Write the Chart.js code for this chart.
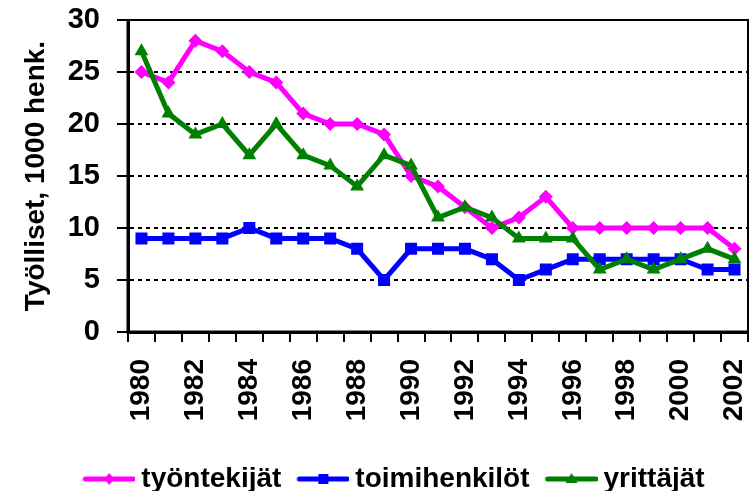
<!DOCTYPE html>
<html>
<head>
<meta charset="utf-8">
<script src="https://cdn.jsdelivr.net/npm/chart.js@4/dist/chart.umd.min.js"></script>
<style>
  html, body { margin: 0; padding: 0; background: #fff; }
  #wrap { width: 752px; height: 491px; }
</style>
</head>
<body>
<div id="wrap"><canvas id="chart" width="752" height="491"></canvas></div>
<script>
const years = ['1980','1981','1982','1983','1984','1985','1986','1987','1988','1989','1990','1991',
               '1992','1993','1994','1995','1996','1997','1998','1999','2000','2001','2002'];
const tyontekijat = [25, 24, 28, 27, 25, 24, 21, 20, 20, 19, 15, 14, 12, 10, 11, 13, 10, 10, 10, 10, 10, 10, 8];
const toimihenkilot = [9, 9, 9, 9, 10, 9, 9, 9, 8, 5, 8, 8, 8, 7, 5, 6, 7, 7, 7, 7, 7, 6, 6];
const yrittajat = [27, 21, 19, 20, 17, 20, 17, 16, 14, 17, 16, 11, 12, 11, 9, 9, 9, 6, 7, 6, 7, 8, 7];
const yTicks = [0, 5, 10, 15, 20, 25, 30];

const FONT = "'Liberation Sans', Arial, sans-serif";

// legend icon: thick line with the marker in the middle, transparent margin on the left
function legendIcon(color, shape) {
  const c = document.createElement('canvas');
  c.width = 72; c.height = 16;
  const g = c.getContext('2d');
  g.strokeStyle = color; g.fillStyle = color;
  g.lineWidth = 5; g.lineCap = 'round';
  g.beginPath(); g.moveTo(22, 8); g.lineTo(70, 8); g.stroke();
  const cx = 46;
  g.beginPath();
  if (shape === 'diamond') {
    g.moveTo(cx, 2); g.lineTo(cx + 5, 8); g.lineTo(cx, 14); g.lineTo(cx - 5, 8);
  } else if (shape === 'square') {
    g.rect(cx - 5, 3, 10, 10);
  } else {
    g.moveTo(cx, 2); g.lineTo(cx + 6, 12); g.lineTo(cx - 6, 12);
  }
  g.closePath(); g.fill();
  return c;
}
const icons = [legendIcon('#FF00FF', 'diamond'), legendIcon('#0000FF', 'square'), legendIcon('#008000', 'triangle')];

const frame = {
  id: 'frame',
  afterLayout(chart) {
    // legend in the original sits a bit right of centre
    chart.legend.left += 14;
    chart.legend.right += 14;
  },
  afterDatasetsDraw(chart) {
    const a = chart.chartArea, ctx = chart.ctx;
    ctx.save();
    ctx.strokeStyle = '#000';
    ctx.lineWidth = 2;
    ctx.beginPath();
    ctx.moveTo(a.left, a.top); ctx.lineTo(a.right, a.top); ctx.lineTo(a.right, a.bottom);
    ctx.stroke();
    ctx.lineWidth = 3;
    ctx.beginPath();
    ctx.moveTo(a.left, a.top); ctx.lineTo(a.left, a.bottom); ctx.lineTo(a.right, a.bottom);
    ctx.stroke();
    ctx.restore();
  }
};

new Chart(document.getElementById('chart'), {
  type: 'line',
  data: {
    labels: years,
    datasets: [
      {
        label: 'työntekijät', data: tyontekijat, order: 2,
        borderColor: '#FF00FF', backgroundColor: '#FF00FF', borderWidth: 5,
        pointStyle: 'rectRot', pointRadius: 7, pointBorderWidth: 0
      },
      {
        label: 'toimihenkilöt', data: toimihenkilot, order: 1,
        borderColor: '#0000FF', backgroundColor: '#0000FF', borderWidth: 5,
        pointStyle: 'rect', pointRadius: 8.5, pointBorderWidth: 0
      },
      {
        label: 'yrittäjät', data: yrittajat, order: 0,
        borderColor: '#008000', backgroundColor: '#008000', borderWidth: 5,
        pointStyle: 'triangle', pointRadius: 8, pointBorderWidth: 0
      }
    ]
  },
  options: {
    responsive: false,
    animation: false,
    tension: 0,
    layout: { autoPadding: false, padding: { left: 0, right: 4, top: 20, bottom: -12 } },
    plugins: {
      tooltip: { enabled: false },
      legend: {
        position: 'bottom',
        labels: {
          color: '#000',
          font: { family: FONT, size: 28, weight: 'bold' },
          usePointStyle: true,
          pointStyleWidth: 56,
          padding: 4,
          sort: (a, b) => a.datasetIndex - b.datasetIndex,
          generateLabels(chart) {
            const items = Chart.defaults.plugins.legend.labels.generateLabels(chart);
            items.forEach(it => { it.pointStyle = icons[it.datasetIndex]; });
            return items;
          }
        }
      }
    },
    scales: {
      x: {
        offset: true,
        afterFit: s => { s.paddingLeft = 0; s.paddingRight = 0; s.height = 129; },
        grid: { drawOnChartArea: false, offset: true, color: '#000', lineWidth: 2, tickLength: 10 },
        border: { display: true, color: '#000', width: 3 },
        ticks: {
          autoSkip: false, minRotation: 90, maxRotation: 90, padding: 17,
          color: '#000', font: { family: FONT, size: 28, weight: 'bold' },
          callback: (v, i) => (i % 2 === 0 ? years[i] : '')
        }
      },
      y: {
        min: 0, max: 30,
        afterBuildTicks: axis => { axis.ticks = yTicks.map(v => ({ value: v })); },
        afterFit: s => { s.paddingTop = 0; s.paddingBottom = 0; s.width = 128; },
        grid: { color: '#000', lineWidth: 2, tickLength: 11 },
        border: { display: true, color: '#000', width: 3, dash: [4, 4] },
        ticks: {
          padding: 17, color: '#000',
          font: { family: FONT, size: 29, weight: 'bold' }
        },
        title: {
          display: true, text: 'Työlliset, 1000 henk.', color: '#000',
          padding: { top: 19, bottom: 0 },
          font: { family: FONT, size: 28, weight: 'bold' }
        }
      }
    }
  },
  plugins: [frame]
});
</script>
</body>
</html>
